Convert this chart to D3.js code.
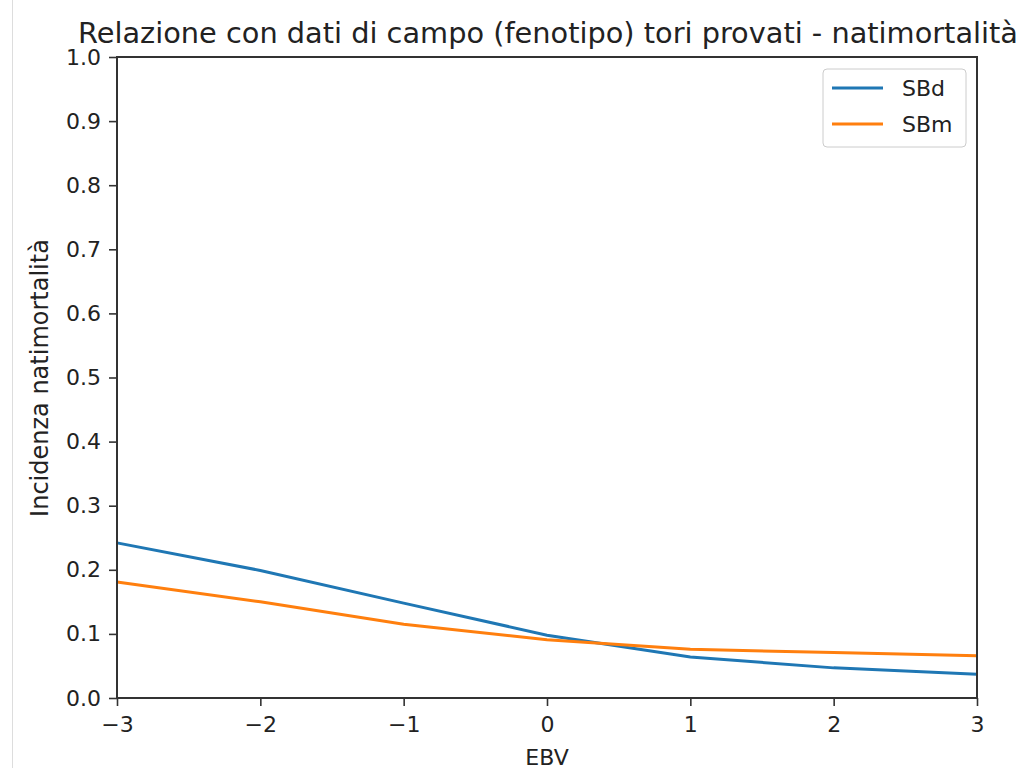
<!DOCTYPE html>
<html>
<head>
<meta charset="utf-8">
<script src="https://cdn.jsdelivr.net/npm/d3@7"></script>
<style>
  body { margin: 0; background: #fff; }
  text { font-family: "DejaVu Sans", sans-serif; fill: #222; }
</style>
</head>
<body>
<div id="chart"></div>
<script>
var ebv = [-3, -2, -1, 0, 1, 2, 3]
var sbd = [0.242, 0.199, 0.148, 0.098, 0.064, 0.047, 0.037]
var sbm = [0.181, 0.150, 0.115, 0.091, 0.076, 0.071, 0.066]
var seriesNames = ["SBd", "SBm"]
var colors = ["#1f77b4", "#ff7f0e"]
var xTicks = [-3, -2, -1, 0, 1, 2, 3]
var yTicks = [0, 0.1, 0.2, 0.3, 0.4, 0.5, 0.6, 0.7, 0.8, 0.9, 1.0]

var margin = {top: 57, right: 48, bottom: 70, left: 117},
    width = 977 - margin.left,
    height = 698 - margin.top

var svg = d3.select("#chart").append("svg")
    .attr("width", 1025)
    .attr("height", 768)

// thin border line on the far left of the screenshot
svg.append("line")
    .attr("x1", 12.5).attr("x2", 12.5)
    .attr("y1", 0).attr("y2", 768)
    .attr("stroke", "#ddd")

var g = svg.append("g")
    .attr("transform", "translate(" + margin.left + "," + margin.top + ")")

var x = d3.scaleLinear().domain([-3, 3]).range([0, width])
var y = d3.scaleLinear().domain([0, 1]).range([height, 0])

var line = d3.line()
    .x(function(d) { return x(d[0]) })
    .y(function(d) { return y(d[1]) })

var series = [sbd, sbm]
series.forEach(function(vals, i) {
  g.append("path")
    .datum(ebv.map(function(e, j) { return [e, vals[j]] }))
    .attr("fill", "none")
    .attr("stroke", colors[i])
    .attr("stroke-width", 3)
    .attr("d", line)
})

var xAxis = g.append("g")
    .attr("transform", "translate(0," + height + ")")
    .call(d3.axisBottom(x).tickValues(xTicks).tickSize(8).tickPadding(10)
      .tickFormat(function(d) { return d < 0 ? "\u2212" + Math.abs(d) : d }))
var yAxis = g.append("g")
    .call(d3.axisLeft(y).tickValues(yTicks).tickSize(8).tickPadding(8).tickFormat(d3.format(".1f")))

;[xAxis, yAxis].forEach(function(a) {
  a.select(".domain").remove()
  a.selectAll("line").attr("stroke", "#333").attr("stroke-width", 1.6)
  a.selectAll("text").style("font-size", "22px").attr("fill", "#222")
})

// frame
g.append("rect")
    .attr("width", width).attr("height", height)
    .attr("fill", "none")
    .attr("stroke", "#333")
    .attr("stroke-width", 2)

// title
svg.append("text")
    .attr("x", 548).attr("y", 43)
    .attr("text-anchor", "middle")
    .attr("textLength", 940)
    .attr("lengthAdjust", "spacingAndGlyphs")
    .style("font-size", "28px")
    .text("Relazione con dati di campo (fenotipo) tori provati - natimortalità")

svg.append("text")
    .attr("x", x(0) + margin.left).attr("y", 765)
    .attr("text-anchor", "middle")
    .style("font-size", "22px")
    .text("EBV")

svg.append("text")
    .attr("transform", "translate(48," + 378 + ") rotate(-90)")
    .attr("text-anchor", "middle")
    .style("font-size", "24px")
    .text("Incidenza natimortalità")

// legend
var legend = g.append("g").attr("transform", "translate(" + (width - 154) + ",12)")
legend.append("rect")
    .attr("width", 143).attr("height", 78)
    .attr("rx", 4)
    .attr("fill", "#fff").attr("fill-opacity", 0.8)
    .attr("stroke", "#ccc")
seriesNames.forEach(function(name, i) {
  var ly = 19 + i * 36
  legend.append("line")
    .attr("x1", 9).attr("x2", 60)
    .attr("y1", ly).attr("y2", ly)
    .attr("stroke", colors[i]).attr("stroke-width", 3)
  legend.append("text")
    .attr("x", 79).attr("y", ly + 8)
    .style("font-size", "22px")
    .text(name)
})
</script>
</body>
</html>
